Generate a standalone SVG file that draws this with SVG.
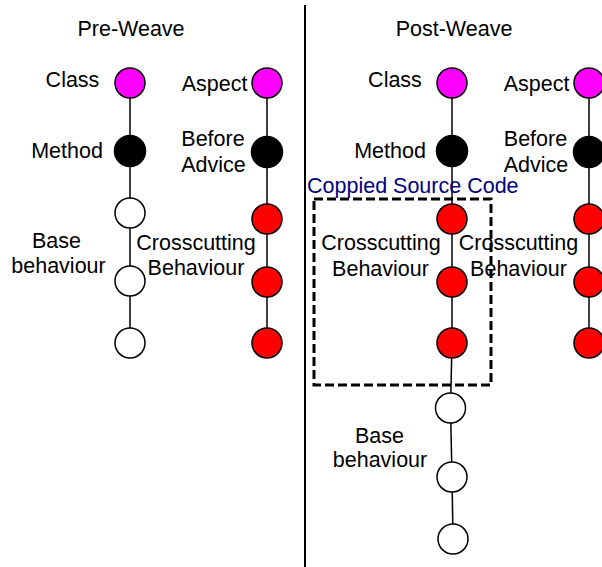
<svg xmlns="http://www.w3.org/2000/svg" width="602" height="567" viewBox="0 0 602 567">
  <style>
    text { font-family: "Liberation Sans", Arial, sans-serif; font-size: 21.5px; fill: #000; text-anchor: middle; }
    .note { fill: #000080; text-anchor: start; }
    .link { stroke: #000; stroke-width: 1.5; fill: none; }
    circle { stroke: #000; stroke-width: 1.5; }
    .cls { fill: #ff00ff; }
    .mth { fill: #000; }
    .base { fill: #fff; }
    .cut { fill: #ff0000; }
  </style>
  <rect width="602" height="567" fill="#fff"/>

  <!-- divider between the two halves -->
  <line x1="305" y1="5" x2="305" y2="567" stroke="#000" stroke-width="2"/>

  <!-- titles -->
  <text x="131" y="36">Pre-Weave</text>
  <text x="454" y="36">Post-Weave</text>

  <!-- connectors -->
  <g id="connectors" class="link">
    <!-- pre-weave class chain -->
    <line x1="130" y1="83" x2="130" y2="343"/>
    <!-- pre-weave aspect chain -->
    <line x1="267" y1="83" x2="267" y2="343"/>
    <!-- post-weave woven chain -->
    <line x1="452" y1="83" x2="452" y2="343"/>
    <line x1="452" y1="343" x2="450.5" y2="408"/>
    <line x1="450.5" y1="408" x2="452" y2="477"/>
    <line x1="452" y1="477" x2="453" y2="539"/>
    <!-- post-weave aspect chain -->
    <line x1="589" y1="83" x2="589" y2="343"/>
  </g>

  <!-- copied code region -->
  <g id="copied-region">
    <rect x="314" y="199" width="177" height="186" fill="none" stroke="#000" stroke-width="3" stroke-dasharray="9,4"/>
    <text class="note" x="307" y="193">Coppied Source Code</text>
  </g>

  <!-- pre-weave base class -->
  <g id="pre-class">
    <circle class="cls" cx="130" cy="83" r="15"/>
    <text x="72.5" y="87">Class</text>
  </g>
  <g id="pre-method">
    <circle class="mth" cx="130" cy="151" r="15.5"/>
    <text x="67" y="158">Method</text>
  </g>
  <g id="pre-base">
    <circle class="base" cx="130" cy="213" r="15"/>
    <circle class="base" cx="130" cy="281" r="15"/>
    <circle class="base" cx="130" cy="343" r="15"/>
    <text x="56.5" y="248">Base</text>
    <text x="58.5" y="273">behaviour</text>
  </g>

  <!-- pre-weave aspect -->
  <g id="pre-aspect">
    <circle class="cls" cx="267" cy="83" r="15"/>
    <text x="214.5" y="91">Aspect</text>
  </g>
  <g id="pre-advice">
    <circle class="mth" cx="267" cy="152" r="15.5"/>
    <text x="213" y="146">Before</text>
    <text x="213.5" y="172">Advice</text>
  </g>
  <g id="pre-crosscut">
    <circle class="cut" cx="267" cy="219" r="15"/>
    <circle class="cut" cx="267" cy="282" r="15"/>
    <circle class="cut" cx="267" cy="343" r="15"/>
    <text x="196" y="250">Crosscutting</text>
    <text x="196" y="275">Behaviour</text>
  </g>

  <!-- post-weave woven class -->
  <g id="post-class">
    <circle class="cls" cx="452" cy="83" r="15"/>
    <text x="395" y="87">Class</text>
  </g>
  <g id="post-method">
    <circle class="mth" cx="452" cy="151" r="15.5"/>
    <text x="390" y="158">Method</text>
  </g>
  <g id="post-copied">
    <circle class="cut" cx="452" cy="219" r="15"/>
    <circle class="cut" cx="452" cy="282" r="15"/>
    <circle class="cut" cx="452" cy="343" r="15"/>
    <text x="381" y="250">Crosscutting</text>
    <text x="380.5" y="276">Behaviour</text>
  </g>
  <g id="post-base">
    <circle class="base" cx="450.5" cy="408" r="15"/>
    <circle class="base" cx="452" cy="477" r="15"/>
    <circle class="base" cx="453" cy="539" r="15"/>
    <text x="379.5" y="443">Base</text>
    <text x="380" y="467">behaviour</text>
  </g>

  <!-- post-weave aspect -->
  <g id="post-aspect">
    <circle class="cls" cx="589" cy="83" r="15"/>
    <text x="536.5" y="91">Aspect</text>
  </g>
  <g id="post-advice">
    <circle class="mth" cx="589" cy="152" r="15.5"/>
    <text x="535.5" y="146">Before</text>
    <text x="536" y="172">Advice</text>
  </g>
  <g id="post-crosscut">
    <circle class="cut" cx="589" cy="219" r="15"/>
    <circle class="cut" cx="589" cy="282" r="15"/>
    <circle class="cut" cx="589" cy="343" r="15"/>
    <text x="518.5" y="250">Crosscutting</text>
    <text x="518.5" y="276">Behaviour</text>
  </g>
</svg>
